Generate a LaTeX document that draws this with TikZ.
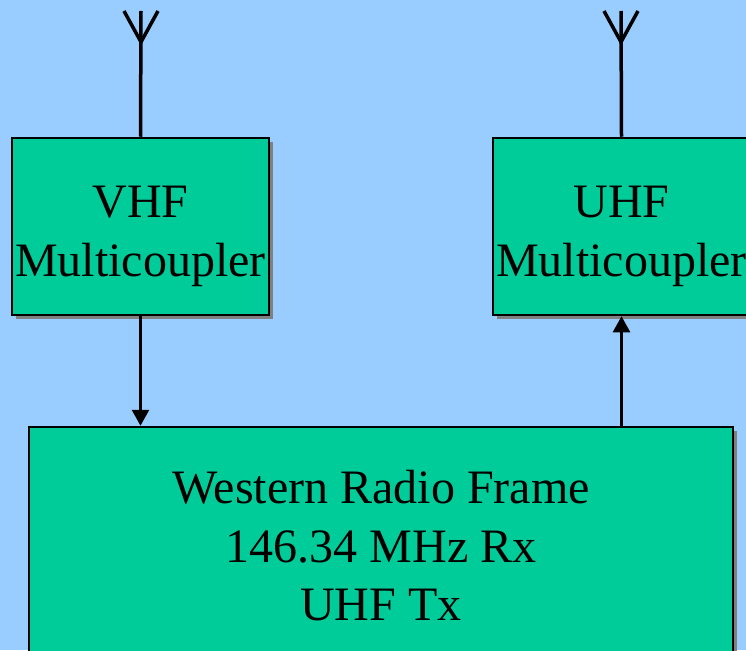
\documentclass[tikz,border=0pt]{standalone}
\usepackage{fontspec}
\setmainfont{Liberation Serif}
\usetikzlibrary{arrows.meta,shadows}

\definecolor{skyblue}{HTML}{99CCFF}
\definecolor{boxgreen}{HTML}{00CC99}

\tikzset{
    unitbox/.style={draw=black, line width=2.5pt, fill=boxgreen, inner sep=0pt,
        drop shadow={shadow xshift=4pt, shadow yshift=-4pt, fill=gray, opacity=1}},
    unittext/.style={align=center, inner sep=0pt, font=\fontsize{48}{58.5}\selectfont},
    feed/.style={line width=2.5pt, -{Triangle[width=17pt,length=16pt]}},
    mast/.style={line width=3.5pt}
}

\begin{document}
\begin{tikzpicture}[x=1pt,y=1pt]

    % background
    \useasboundingbox (0,0) rectangle (746,-650);
    \fill[skyblue] (0,0) rectangle (746,-650);
    \clip (0,0) rectangle (746,-650);


    % multicouplers
    \node[unitbox, minimum width=257pt, minimum height=177pt]
        (vhf) at (140.5,-226.5) {};
    \node[unittext, yshift=-10pt] (vhf_text) at (vhf.center) {VHF\\Multicoupler};

    \node[unitbox, minimum width=257pt, minimum height=177pt]
        (uhf) at (621.5,-226.5) {};
    \node[unittext, yshift=-10pt] (uhf_text) at (uhf.center) {UHF\\Multicoupler};


    % radio frame
    \node[unitbox, minimum width=704pt, minimum height=238pt]
        (frame) at (381,-546) {};
    \node[unittext] (frame_text) at (frame.center)
        {Western Radio Frame\\146.34 MHz Rx\\UHF Tx};


    % antennas
    \coordinate (vhf_tip) at (141,-11);
    \coordinate (vhf_fork) at (141,-42);
    \draw[mast] (vhf.north) -- (vhf_tip);
    \draw[mast] (124,-11) -- (vhf_fork) -- (158,-11);

    \coordinate (uhf_tip) at (621,-11);
    \coordinate (uhf_fork) at (621,-42);
    \draw[mast] (uhf.north) -- (uhf_tip);
    \draw[mast] (604,-11) -- (uhf_fork) -- (638,-11);


    % feeds
    \draw[feed] (vhf.south) -- (vhf.south |- frame.north);
    \draw[feed] (uhf.south |- frame.north) -- (uhf.south);

\end{tikzpicture}
\end{document}
